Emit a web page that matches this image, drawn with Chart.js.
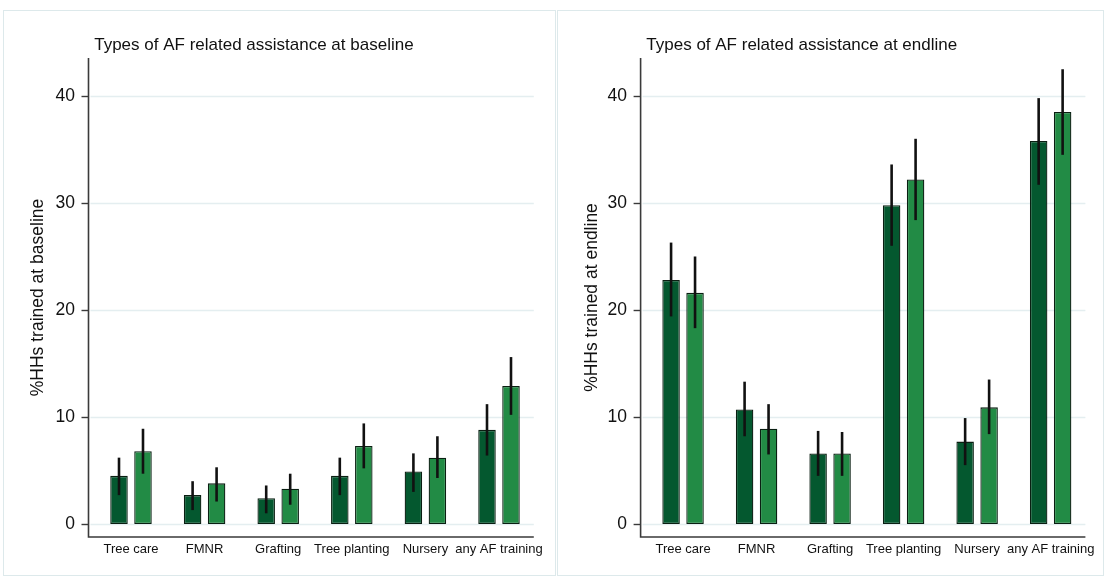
<!DOCTYPE html>
<html>
<head>
<meta charset="utf-8">
<script src="https://cdn.jsdelivr.net/npm/chart.js@4.4.1/dist/chart.umd.min.js"></script>
<style>
  html, body { margin: 0; padding: 0; background: #ffffff; width: 1110px; height: 579px; overflow: hidden; }
  .panel { position: absolute; top: 10px; height: 566px; border: 1px solid #dde9eb; box-sizing: border-box; }
  canvas { position: absolute; top: 0; }
</style>
</head>
<body>
<div class="panel" style="left:3px; width:553px;"></div>
<div class="panel" style="left:557px; width:547px;"></div>
<canvas id="baseline" width="556" height="579" style="left:0px"></canvas>
<canvas id="endline" width="554" height="579" style="left:556px"></canvas>
<script>
// Training categories shown on the x axis
const categories = ['Tree care', 'FMNR', 'Grafting', 'Tree planting', 'Nursery', 'any AF training'];
const yTicks = [0, 10, 20, 30, 40];

// Baseline: % of households trained, with confidence intervals
const baseDark = [4.5, 2.7, 2.4, 4.5, 4.9, 8.8];
const baseDarkLo = [2.7, 1.3, 1.0, 2.7, 3.0, 6.4];
const baseDarkHi = [6.2, 4.0, 3.6, 6.2, 6.6, 11.2];
const baseLight = [6.8, 3.8, 3.3, 7.3, 6.2, 12.9];
const baseLightLo = [4.7, 2.1, 1.8, 5.2, 4.3, 10.2];
const baseLightHi = [8.9, 5.3, 4.7, 9.4, 8.2, 15.6];

// Endline: % of households trained, with confidence intervals
const endDark = [22.8, 10.7, 6.6, 29.8, 7.7, 35.8];
const endDarkLo = [19.4, 8.2, 4.5, 26.0, 5.5, 31.7];
const endDarkHi = [26.3, 13.3, 8.7, 33.6, 9.9, 39.8];
const endLight = [21.6, 8.9, 6.6, 32.2, 10.9, 38.5];
const endLightLo = [18.3, 6.5, 4.5, 28.4, 8.4, 34.5];
const endLightHi = [25.0, 11.2, 8.6, 36.0, 13.5, 42.5];

const FONT = '"Liberation Sans", Arial, Helvetica, sans-serif';
const DARK = '#04582f';
const LIGHT = '#228b45';
const EDGE = '#0a1f12';

// Draws gridlines, axis lines, tick marks (behind bars) and CI whiskers (above bars)
const framePlugin = {
  id: 'frame',
  beforeDatasetsDraw(chart, args, opts) {
    const { ctx, chartArea, scales } = chart;
    const y = scales.y;
    const ax = chartArea.left - opts.axisGap;
    const right = chartArea.right - opts.rightTrim;
    ctx.save();
    ctx.strokeStyle = '#e4eef0';
    ctx.lineWidth = 1.5;
    yTicks.forEach(v => {
      const py = Math.round(y.getPixelForValue(v)) + 0.5;
      ctx.beginPath(); ctx.moveTo(ax + 2, py); ctx.lineTo(right, py); ctx.stroke();
    });
    ctx.strokeStyle = '#3a3a3a';
    ctx.lineWidth = 1.4;
    yTicks.forEach(v => {
      const py = Math.round(y.getPixelForValue(v)) + 0.5;
      ctx.beginPath(); ctx.moveTo(ax - 7, py); ctx.lineTo(ax, py); ctx.stroke();
    });
    ctx.lineWidth = 1.6;
    ctx.beginPath();
    ctx.moveTo(ax, chartArea.top);
    ctx.lineTo(ax, chartArea.bottom);
    ctx.lineTo(right, chartArea.bottom);
    ctx.stroke();
    ctx.restore();
  },
  afterDatasetsDraw(chart, args, opts) {
    const { ctx, scales } = chart;
    const y = scales.y;
    ctx.save();
    ctx.strokeStyle = '#111111';
    ctx.lineWidth = 2.6;
    chart.data.datasets.forEach((ds, i) => {
      const meta = chart.getDatasetMeta(i);
      meta.data.forEach((bar, j) => {
        ctx.beginPath();
        ctx.moveTo(bar.x, y.getPixelForValue(ds.ciLo[j]));
        ctx.lineTo(bar.x, y.getPixelForValue(ds.ciHi[j]));
        ctx.stroke();
      });
    });
    ctx.restore();
  }
};

function makePanel(id, title, yTitle, dark, darkLo, darkHi, light, lightLo, lightHi, geo) {
  return new Chart(document.getElementById(id), {
    type: 'bar',
    data: {
      labels: categories,
      datasets: [
        { label: 'Series A', data: dark, ciLo: darkLo, ciHi: darkHi,
          backgroundColor: DARK, borderColor: EDGE, borderWidth: 1.3, borderSkipped: false },
        { label: 'Series B', data: light, ciLo: lightLo, ciHi: lightHi,
          backgroundColor: LIGHT, borderColor: EDGE, borderWidth: 1.3, borderSkipped: false }
      ]
    },
    options: {
      responsive: false,
      devicePixelRatio: 1,
      animation: false,
      categoryPercentage: 0.652,
      barPercentage: 0.73,
      layout: { padding: { left: geo.padLeft, right: geo.padRight, top: 10, bottom: 0 } },
      plugins: {
        legend: { display: false },
        tooltip: { enabled: false },
        title: {
          display: true, text: title, align: 'start', fullSize: false,
          color: '#111111', font: { family: FONT, size: 17, weight: 'normal', lineHeight: 1.2 },
          padding: { top: 24.8, bottom: 2.8 }
        },
        frame: { axisGap: 5.7, rightTrim: 2 }
      },
      scales: {
        x: {
          offset: true,
          grid: { display: false, drawTicks: false },
          border: { display: false },
          ticks: { color: '#111111', padding: 4.2, maxRotation: 0, autoSkip: false,
                   font: { family: FONT, size: 13 } },
          afterFit(s) { s.height = 42; }
        },
        y: {
          min: -1.215, max: 43.55,
          afterBuildTicks(s) { s.ticks = yTicks.map(v => ({ value: v })); },
          grid: { display: false, drawTicks: false },
          border: { display: false },
          ticks: { color: '#111111', padding: geo.tickPad, font: { family: FONT, size: 17.5 } },
          title: { display: true, text: yTitle, color: '#111111',
                   font: { family: FONT, size: 17.5 }, padding: { top: geo.titlePad, bottom: 0 } },
          afterFit(s) { s.width = geo.yWidth; }
        }
      }
    },
    plugins: [framePlugin]
  });
}

makePanel('baseline', 'Types of AF related assistance at baseline', '%HHs trained at baseline',
  baseDark, baseDarkLo, baseDarkHi, baseLight, baseLightLo, baseLightHi,
  { padLeft: 20, padRight: 20.2, yWidth: 74.2, tickPad: 19.2, titlePad: 7.5 });

makePanel('endline', 'Types of AF related assistance at endline', '%HHs trained at endline',
  endDark, endDarkLo, endDarkHi, endLight, endLightLo, endLightHi,
  { padLeft: 18, padRight: 22.6, yWidth: 72.3, tickPad: 19.3, titlePad: 7.5 });
</script>
</body>
</html>
